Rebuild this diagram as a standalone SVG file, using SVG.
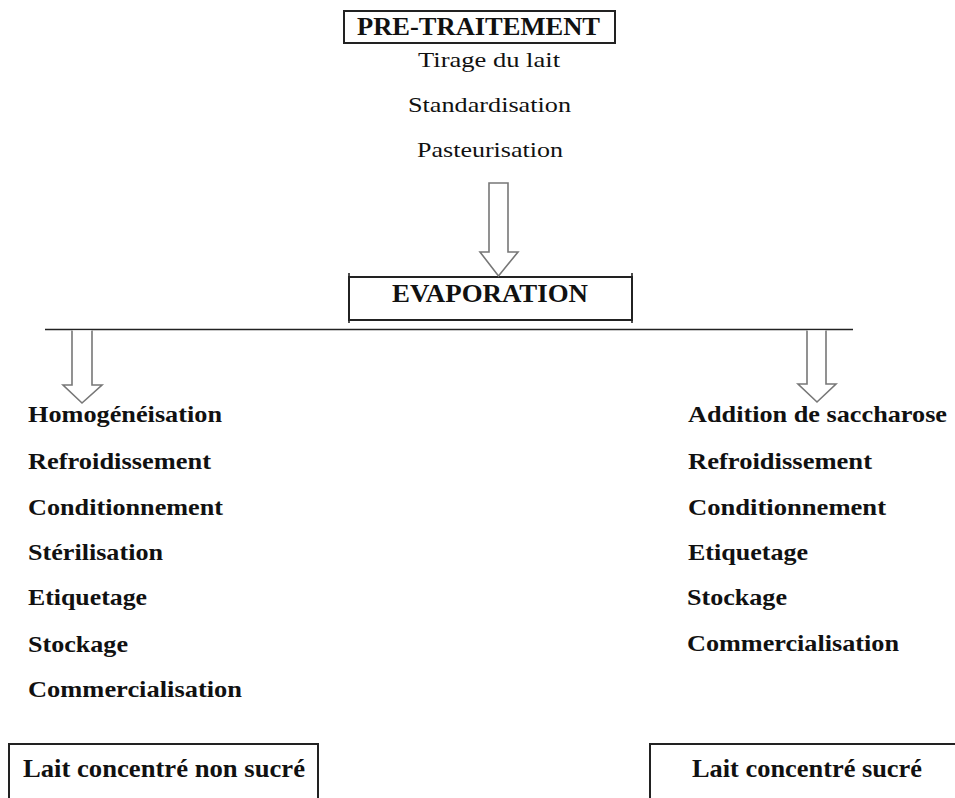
<svg xmlns="http://www.w3.org/2000/svg" width="955" height="798" viewBox="0 0 955 798">
  <style>
    text { font-family: "Liberation Serif", "Times New Roman", serif; fill: #111; }
    .title { font-size: 26px; font-weight: bold; }
    .step { font-size: 22px; }
    .item { font-size: 24px; font-weight: bold; }
    .product { font-size: 26px; font-weight: bold; }
    .box { fill: #fff; stroke: #222; stroke-width: 2; }
    .rule { stroke: #222; stroke-width: 1.6; fill: none; }
    .arrow { fill: #fff; stroke: #777; stroke-width: 1.6; stroke-linejoin: miter; }
  </style>
  <rect width="955" height="798" fill="#fff"/>

  <!-- pre-treatment block -->
  <g id="pretraitement">
    <rect class="box" x="344" y="11" width="271" height="32"/>
    <text class="title" x="357" y="35" textLength="243" lengthAdjust="spacingAndGlyphs">PRE-TRAITEMENT</text>
    <text class="step" x="418" y="67" textLength="142" lengthAdjust="spacingAndGlyphs">Tirage du lait</text>
    <text class="step" x="408" y="112" textLength="163" lengthAdjust="spacingAndGlyphs">Standardisation</text>
    <text class="step" x="417" y="157" textLength="146" lengthAdjust="spacingAndGlyphs">Pasteurisation</text>
  </g>

  <!-- evaporation block -->
  <g id="evaporation">
    <rect class="box" x="349" y="277" width="283" height="43" stroke-width="1.8"/>
    <line class="rule" x1="349" y1="273" x2="349" y2="323"/>
    <line class="rule" x1="632" y1="273" x2="632" y2="323"/>
    <text class="title" x="392" y="302" textLength="196" lengthAdjust="spacingAndGlyphs">EVAPORATION</text>
  </g>

  <!-- connectors: hollow block arrows and the split rule -->
  <g id="connectors">
    <path class="arrow" d="M489,183 H508 V252 H518 L498.5,276 L480,252 H489 Z"/>
    <line class="rule" x1="45" y1="329.5" x2="853" y2="329.5"/>
    <path class="arrow" d="M72,330.5 V385 H63 L82,403 L102,385 H92 V330.5"/>
    <path class="arrow" d="M807,330.5 V384 H798 L817,402 L836,384 H826 V330.5"/>
  </g>

  <!-- unsweetened branch -->
  <g id="branche-non-sucre">
    <text class="item" x="28" y="422" textLength="194" lengthAdjust="spacingAndGlyphs">Homogénéisation</text>
    <text class="item" x="28" y="469" textLength="183" lengthAdjust="spacingAndGlyphs">Refroidissement</text>
    <text class="item" x="28" y="515" textLength="195" lengthAdjust="spacingAndGlyphs">Conditionnement</text>
    <text class="item" x="28" y="560" textLength="135" lengthAdjust="spacingAndGlyphs">Stérilisation</text>
    <text class="item" x="28" y="605" textLength="119" lengthAdjust="spacingAndGlyphs">Etiquetage</text>
    <text class="item" x="28" y="652" textLength="100" lengthAdjust="spacingAndGlyphs">Stockage</text>
    <text class="item" x="28" y="697" textLength="214" lengthAdjust="spacingAndGlyphs">Commercialisation</text>
  </g>

  <!-- sweetened branch -->
  <g id="branche-sucre">
    <text class="item" x="688" y="422" textLength="259" lengthAdjust="spacingAndGlyphs">Addition de saccharose</text>
    <text class="item" x="688" y="469" textLength="184" lengthAdjust="spacingAndGlyphs">Refroidissement</text>
    <text class="item" x="688" y="515" textLength="198" lengthAdjust="spacingAndGlyphs">Conditionnement</text>
    <text class="item" x="688" y="560" textLength="120" lengthAdjust="spacingAndGlyphs">Etiquetage</text>
    <text class="item" x="687" y="605" textLength="100" lengthAdjust="spacingAndGlyphs">Stockage</text>
    <text class="item" x="687" y="651" textLength="212" lengthAdjust="spacingAndGlyphs">Commercialisation</text>
  </g>

  <!-- final products; both boxes run off the bottom edge, the right one also off the right edge -->
  <g id="lait-non-sucre">
    <path class="box" d="M9,800 V744 H318 V800"/>
    <text class="product" x="23" y="777" textLength="282" lengthAdjust="spacingAndGlyphs">Lait concentré non sucré</text>
  </g>
  <g id="lait-sucre">
    <path class="box" d="M650,800 V744 H960"/>
    <text class="product" x="692" y="777" textLength="230" lengthAdjust="spacingAndGlyphs">Lait concentré sucré</text>
  </g>
</svg>
